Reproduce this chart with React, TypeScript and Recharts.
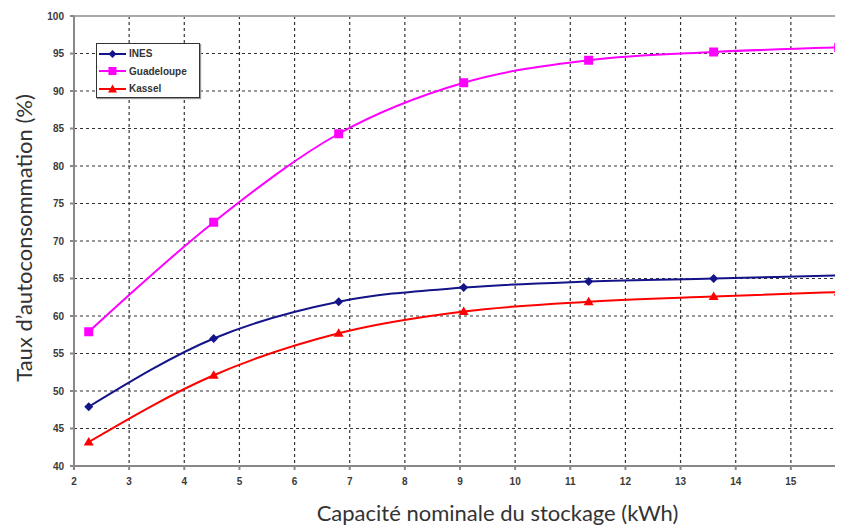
import React from 'react';
import { LineChart, Line, XAxis, YAxis, CartesianGrid, ReferenceLine } from 'recharts';

const capacities = [2.267, 4.533, 6.8, 9.067, 11.333, 13.6, 15.867];
const inesValues = [47.9, 57.0, 61.9, 63.8, 64.6, 65.0, 65.4];
const guadeloupeValues = [57.9, 72.5, 84.3, 91.1, 94.1, 95.2, 95.8];
const kasselValues = [43.2, 52.1, 57.7, 60.6, 61.9, 62.6, 63.2];
const xTicks = [2, 3, 4, 5, 6, 7, 8, 9, 10, 11, 12, 13, 14, 15, 16];
const yTicks = [40, 45, 50, 55, 60, 65, 70, 75, 80, 85, 90, 95, 100];

const data = capacities.map((c, i) => ({
  cap: c,
  ines: inesValues[i],
  guadeloupe: guadeloupeValues[i],
  kassel: kasselValues[i],
}));

const INES_COLOR = '#14148a';
const GUA_COLOR = '#ff00ff';
const KAS_COLOR = '#ff0000';

const Diamond = (p: any) => {
  const { cx, cy } = p;
  if (cx == null || cy == null) return <g key={p.key} />;
  const r = 4.5;
  return <path key={p.key} d={`M${cx},${cy - r}L${cx + r},${cy}L${cx},${cy + r}L${cx - r},${cy}Z`} fill={INES_COLOR} />;
};
const Square = (p: any) => {
  const { cx, cy } = p;
  if (cx == null || cy == null) return <g key={p.key} />;
  const r = 4.5;
  return <rect key={p.key} x={cx - r} y={cy - r} width={2 * r} height={2 * r} fill={GUA_COLOR} />;
};
const Triangle = (p: any) => {
  const { cx, cy } = p;
  if (cx == null || cy == null) return <g key={p.key} />;
  const r = 5;
  return <path key={p.key} d={`M${cx},${cy - r}L${cx + r},${cy + r * 0.7}L${cx - r},${cy + r * 0.7}Z`} fill={KAS_COLOR} />;
};

const legendItems = [
  { name: 'INES', color: INES_COLOR, shape: 'diamond' },
  { name: 'Guadeloupe', color: GUA_COLOR, shape: 'square' },
  { name: 'Kassel', color: KAS_COLOR, shape: 'triangle' },
];

const LegendBox = () => (
  <div
    style={{
      position: 'absolute',
      left: 88,
      top: 35,
      width: 104,
      height: 55,
      border: '1px solid #333',
      background: '#fff',
      boxShadow: '1px 1px 1px #999',
      boxSizing: 'border-box',
      paddingTop: 1,
    }}
  >
    {legendItems.map((it) => (
      <div key={it.name} style={{ display: 'flex', alignItems: 'center', height: 17.5 }}>
        <svg width={31} height={12} style={{ display: 'block' }}>
          <line x1={2} y1={6} x2={29} y2={6} stroke={it.color} strokeWidth={2} />
          {it.shape === 'diamond' && <path d="M15.5,2L19.5,6L15.5,10L11.5,6Z" fill={it.color} />}
          {it.shape === 'square' && <rect x={11.5} y={2} width={8} height={8} fill={it.color} />}
          {it.shape === 'triangle' && <path d="M15.5,1.5L20,9.5L11,9.5Z" fill={it.color} />}
        </svg>
        <span
          style={{
            fontFamily: '"Liberation Sans", Arial, sans-serif',
            fontWeight: 'bold',
            fontSize: 10,
            color: '#333',
            marginLeft: 1,
          }}
        >
          {it.name}
        </span>
      </div>
    ))}
  </div>
);

const tickStyle = {
  fontSize: 10,
  fontWeight: 'bold' as const,
  fill: '#3a3a3a',
  fontFamily: '"Liberation Sans", Arial, sans-serif',
};

export default function App() {
  return (
    <div style={{ position: 'relative', width: 835, height: 519, overflow: 'hidden' }}>
      <style>{'html,body{overflow:hidden;}'}</style>
      <LineChart width={850} height={519} data={data} margin={{ top: 8, right: 12, bottom: 31, left: 26 }}>
        <CartesianGrid stroke="#333" strokeDasharray="3 3" strokeWidth={1.2} />
        <XAxis
          dataKey="cap"
          type="number"
          domain={[2, 16]}
          ticks={xTicks}
          interval={0}
          height={30}
          stroke="#888"
          strokeWidth={2}
          tickSize={4}
          tickMargin={8}
          tick={tickStyle}
          allowDataOverflow
        />
        <YAxis
          type="number"
          domain={[40, 100]}
          ticks={yTicks}
          interval={0}
          width={40}
          stroke="#888"
          strokeWidth={2}
          tickSize={4}
          tickMargin={6}
          tick={tickStyle}
        />
        <ReferenceLine y={100} stroke="#aaa" strokeWidth={2} />
        <Line
          type="monotone"
          dataKey="ines"
          name="INES"
          stroke={INES_COLOR}
          strokeWidth={2}
          dot={Diamond}
          isAnimationActive={false}
        />
        <Line
          type="monotone"
          dataKey="guadeloupe"
          name="Guadeloupe"
          stroke={GUA_COLOR}
          strokeWidth={2}
          dot={Square}
          isAnimationActive={false}
        />
        <Line
          type="monotone"
          dataKey="kassel"
          name="Kassel"
          stroke={KAS_COLOR}
          strokeWidth={2}
          dot={Triangle}
          isAnimationActive={false}
        />
      </LineChart>
      <LegendBox />
      <div
        style={{
          position: 'absolute',
          left: 489.5,
          top: 494,
          transform: 'translateX(-50%)',
          whiteSpace: 'nowrap',
          fontFamily: 'Lato, "Open Sans", sans-serif',
          fontSize: 22,
          lineHeight: '22px',
          color: '#333',
        }}
      >
        Capacité nominale du stockage (kWh)
      </div>
      <div
        style={{
          position: 'absolute',
          left: 15.5 - 200,
          top: 230 - 12,
          width: 400,
          height: 24,
          lineHeight: '24px',
          textAlign: 'center',
          transform: 'rotate(-90deg)',
          whiteSpace: 'nowrap',
          fontFamily: 'Lato, "Open Sans", sans-serif',
          fontSize: 22,
          color: '#333',
        }}
      >
        Taux d’autoconsommation (%)
      </div>
    </div>
  );
}
